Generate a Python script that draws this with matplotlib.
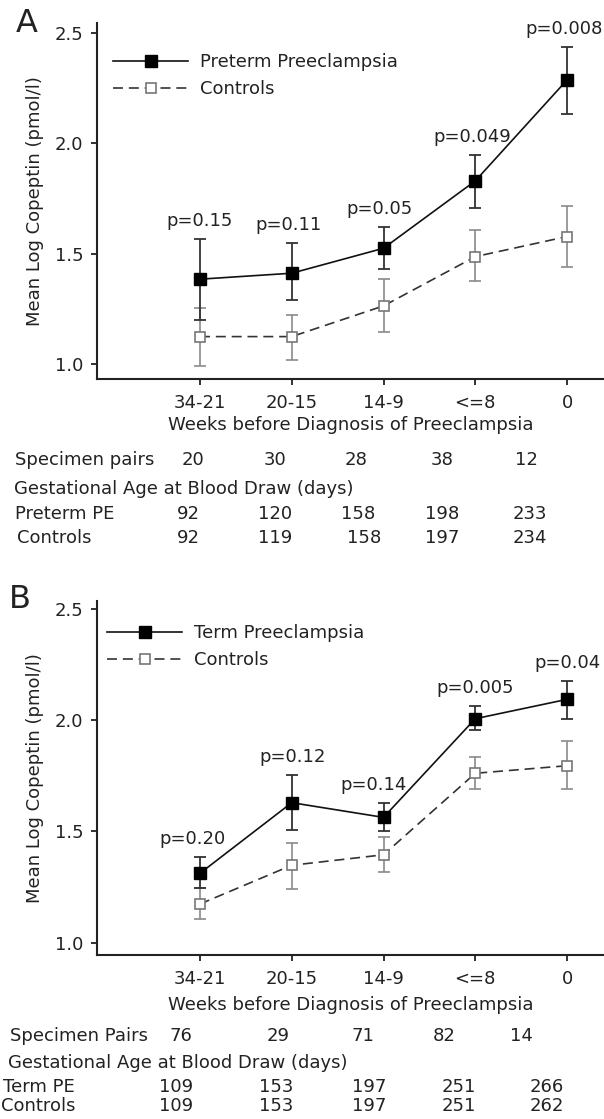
import matplotlib
matplotlib.use("Agg")
import matplotlib.pyplot as plt
from matplotlib.lines import Line2D

# ---------------- data ----------------
categories = ["34-21", "20-15", "14-9", "<=8", "0"]

# Panel A (preterm)
a_pe_mean = [1.385, 1.412, 1.525, 1.830, 2.287]
a_pe_low = [1.200, 1.291, 1.429, 1.709, 2.132]
a_pe_high = [1.569, 1.548, 1.620, 1.946, 2.435]
a_ct_mean = [1.125, 1.125, 1.264, 1.487, 1.578]
a_ct_low = [0.994, 1.020, 1.148, 1.379, 1.438]
a_ct_high = [1.255, 1.224, 1.385, 1.608, 1.717]
a_pvals = ["p=0.15", "p=0.11", "p=0.05", "p=0.049", "p=0.008"]
a_pairs = ["20", "30", "28", "38", "12"]
a_ga_pe = ["92", "120", "158", "198", "233"]
a_ga_ct = ["92", "119", "158", "197", "234"]

# Panel B (term)
b_pe_mean = [1.312, 1.629, 1.563, 2.006, 2.093]
b_pe_low = [1.244, 1.506, 1.503, 1.955, 2.005]
b_pe_high = [1.384, 1.753, 1.629, 2.063, 2.177]
b_ct_mean = [1.174, 1.348, 1.395, 1.761, 1.795]
b_ct_low = [1.105, 1.240, 1.319, 1.689, 1.690]
b_ct_high = [1.244, 1.449, 1.476, 1.833, 1.907]
b_pvals = ["p=0.20", "p=0.12", "p=0.14", "p=0.005", "p=0.04"]
b_pairs = ["76", "29", "71", "82", "14"]
b_ga_pe = ["109", "153", "197", "251", "266"]
b_ga_ct = ["109", "153", "197", "251", "262"]

# ---------------- style ----------------
W, H = 604, 1119
plt.rcParams["font.family"] = ["DejaVu Sans"]
FS = 13
TXT = "#222222"

fig = plt.figure(figsize=(W / 100, H / 100), dpi=100)


def fx(x):
    return x / W


def fy(y):
    return 1 - y / H


def panel(top_px, bottom_px, pe_mean, pe_low, pe_high, ct_mean, ct_low, ct_high,
          pvals, pe_label, ylim, p_dx, leg_anchor, xlabelpad):
    left_px = 96.5
    ax = fig.add_axes([fx(left_px), fy(bottom_px), (W - left_px) / W,
                       (bottom_px - top_px) / H])
    xs = list(range(len(categories)))
    ax.set_xlim(-1.128, 4.403)
    ax.set_ylim(*ylim)

    # controls
    ax.errorbar(xs, ct_mean,
                yerr=[[m - l for m, l in zip(ct_mean, ct_low)],
                      [h - m for m, h in zip(ct_mean, ct_high)]],
                fmt="none", ecolor="#8a8a8a", elinewidth=1.2, capsize=4,
                capthick=1.2, zorder=2)
    ax.plot(xs, ct_mean, color="#333333", lw=1.2, linestyle=(0, (6, 3.5)),
            marker="s", markersize=7.5, markerfacecolor="white",
            markeredgecolor="#777777", markeredgewidth=1.2, zorder=3)
    # cases
    ax.errorbar(xs, pe_mean,
                yerr=[[m - l for m, l in zip(pe_mean, pe_low)],
                      [h - m for m, h in zip(pe_mean, pe_high)]],
                fmt="none", ecolor="#333333", elinewidth=1.3, capsize=4,
                capthick=1.3, zorder=4)
    ax.plot(xs, pe_mean, color="#111111", lw=1.2, marker="s", markersize=8.5,
            markerfacecolor="black", markeredgecolor="black", zorder=5)

    for x, h, p, dx in zip(xs, pe_high, pvals, p_dx):
        ax.annotate(p, (x, h), xytext=(dx, 18), textcoords="offset pixels",
                    ha="center", va="center", fontsize=FS, color=TXT)

    ax.spines["top"].set_visible(False)
    ax.spines["right"].set_visible(False)
    for s in ("left", "bottom"):
        ax.spines[s].set_linewidth(1.5)
        ax.spines[s].set_color("#222222")
    ax.set_xticks(xs)
    ax.set_xticklabels(categories)
    ax.set_yticks([1.0, 1.5, 2.0, 2.5])
    ax.set_yticklabels(["1.0", "1.5", "2.0", "2.5"])
    ax.tick_params(axis="both", length=4.5, width=1.3, color="#222222",
                   labelsize=FS, labelcolor=TXT)
    ax.tick_params(axis="x", pad=6)
    ax.tick_params(axis="y", pad=5)
    ax.set_xlabel("Weeks before Diagnosis of Preeclampsia", fontsize=FS,
                  color=TXT, labelpad=xlabelpad)
    ax.set_ylabel("Mean Log Copeptin (pmol/l)", fontsize=FS, color=TXT)
    ax.yaxis.set_label_coords(-0.104, 0.5)

    h1 = Line2D([], [], color="#111111", lw=1.2, marker="s", markersize=8.5,
                markerfacecolor="black", markeredgecolor="black")
    h2 = Line2D([], [], color="#333333", lw=1.2, linestyle=(0, (6, 3.5)),
                marker="s", markersize=7.5, markerfacecolor="white",
                markeredgecolor="#777777", markeredgewidth=1.2)
    leg = ax.legend([h1, h2], [pe_label, "Controls"], loc="upper left",
                    bbox_to_anchor=leg_anchor, frameon=False, fontsize=FS,
                    handlelength=4.15, handletextpad=0.64, labelspacing=0.5,
                    borderaxespad=0.2)
    for t in leg.get_texts():
        t.set_color(TXT)
    return ax


panel(23, 379, a_pe_mean, a_pe_low, a_pe_high, a_ct_mean, a_ct_low, a_ct_high,
      a_pvals, "Preterm Preeclampsia", ylim=(0.933, 2.545),
      p_dx=[0, -3, -4, -3, -3], leg_anchor=(0.012, 0.945), xlabelpad=3)
panel(600.7, 955, b_pe_mean, b_pe_low, b_pe_high, b_ct_mean, b_ct_low,
      b_ct_high, b_pvals, "Term Preeclampsia", ylim=(0.945, 2.536),
      p_dx=[-8, 1, -10, 0, 0], leg_anchor=(0.0, 0.965), xlabelpad=6)

fig.text(fx(27), fy(23), "A", fontsize=23, ha="center", va="center", color=TXT)
fig.text(fx(20), fy(599), "B", fontsize=23, ha="center", va="center", color=TXT)


def table_row(label, label_x, y, values, xs_px):
    fig.text(fx(label_x), fy(y), label, fontsize=FS, ha="left", va="center",
             color=TXT)
    for v, x in zip(values, xs_px):
        fig.text(fx(x), fy(y), v, fontsize=FS, ha="center", va="center",
                 color=TXT)


# Panel A table
table_row("Specimen pairs", 15, 460, a_pairs, [192.6, 275, 356, 442, 526])
table_row("Gestational Age at Blood Draw (days)", 13.5, 489, [], [])
table_row("Preterm PE", 15, 514, a_ga_pe, [188.7, 275, 358, 442, 530])
table_row("Controls", 17, 538, a_ga_ct, [188.7, 275, 364, 442, 530])

# Panel B table
table_row("Specimen Pairs", 10, 1036, b_pairs, [181, 278, 363, 444, 521])
table_row("Gestational Age at Blood Draw (days)", 8.5, 1063, [], [])
table_row("Term PE", 3, 1087, b_ga_pe, [176.5, 276.6, 369, 458.4, 547])
table_row("Controls", 1, 1106, b_ga_ct, [176.5, 276.6, 369, 458.4, 547])

fig.savefig("out.png", dpi=100)
